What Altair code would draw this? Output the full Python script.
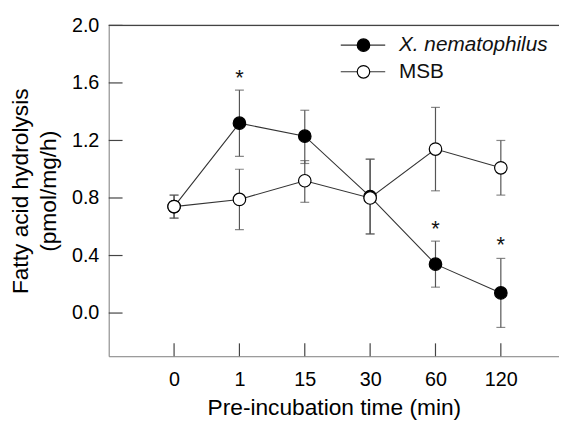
import altair as alt
import pandas as pd

# ---- data ----
times = ["0", "1", "15", "30", "60", "120"]
xnem_mean = [0.74, 1.32, 1.23, 0.81, 0.34, 0.14]
xnem_lo = [0.66, 1.09, 1.04, 0.55, 0.18, -0.10]
xnem_hi = [0.82, 1.55, 1.41, 1.07, 0.50, 0.38]
msb_mean = [0.74, 0.79, 0.92, 0.80, 1.14, 1.01]
msb_lo = [0.66, 0.58, 0.77, 0.55, 0.85, 0.82]
msb_hi = [0.82, 1.00, 1.06, 1.07, 1.43, 1.20]
star_time = ["1", "60", "120"]
star_y = [1.64, 0.59, 0.48]
y_tick_values = [0.0, 0.4, 0.8, 1.2, 1.6, 2.0]
series_names = ["X. nematophilus", "MSB"]

W, H = 456, 335
FONT = "Liberation Sans"

rows = []
for name, m, lo, hi in [(series_names[0], xnem_mean, xnem_lo, xnem_hi),
                        (series_names[1], msb_mean, msb_lo, msb_hi)]:
    for i, t in enumerate(times):
        rows.append({"series": name, "idx": i, "time": t, "mean": m[i], "lo": lo[i], "hi": hi[i]})
df = pd.DataFrame(rows)
xnem = df[df.series == series_names[0]]
msb = df[df.series == series_names[1]]

stars = pd.DataFrame({"idx": [times.index(t) for t in star_time], "mean": star_y})
yticks = pd.DataFrame({"mean": y_tick_values})
xticks = pd.DataFrame({"idx": list(range(len(times)))})

label_expr = "[" + ",".join("'%s'" % t for t in times) + "][datum.value]"

xscale = alt.Scale(domain=[-1, 5.89], nice=False, zero=False)
yscale = alt.Scale(domain=[-0.3, 2.0], nice=False, zero=False)
xaxis = alt.Axis(values=list(range(len(times))), labelExpr=label_expr, ticks=False, tickSize=0,
                 grid=False, labelPadding=14, labelFontSize=20, titleFontSize=23,
                 titleFontWeight="normal", titleBaseline="alphabetic", titleY=59,
                 labelFlush=False)
yaxis = alt.Axis(values=y_tick_values, format=".1f", ticks=False, tickSize=0, grid=False,
                 labelPadding=10, labelFontSize=20, titleFontSize=23, titleFontWeight="normal",
                 titleLineHeight=28, titleBaseline="top", titleX=-100, titleAngle=-90)
XTITLE = "Pre-incubation time (min)"
YTITLE = ["Fatty acid hydrolysis", "(pmol/mg/h)"]


def X(field="idx"):
    return alt.X(f"{field}:Q", scale=xscale, axis=xaxis, title=XTITLE)


def Y(field="mean"):
    return alt.Y(f"{field}:Q", scale=yscale, axis=yaxis, title=YTITLE)


layers = []
ERR = "#555555"
LINE = "#333333"
for d in (xnem, msb):
    layers.append(alt.Chart(d).mark_rule(color=ERR, strokeWidth=1.2).encode(
        x=X(), y=Y("lo"), y2="hi"))
    layers.append(alt.Chart(d).mark_tick(color=ERR, orient="horizontal", size=9, thickness=1.2).encode(
        x=X(), y=Y("lo")))
    layers.append(alt.Chart(d).mark_tick(color=ERR, orient="horizontal", size=9, thickness=1.2).encode(
        x=X(), y=Y("hi")))
for d in (xnem, msb):
    layers.append(alt.Chart(d).mark_line(color=LINE, strokeWidth=1.1).encode(x=X(), y=Y()))
for d, fill in ((xnem, "black"), (msb, "white")):
    layers.append(alt.Chart(d).mark_point(filled=True, fill=fill, stroke="black", strokeWidth=1.2,
                                          size=160, opacity=1, shape="circle").encode(x=X(), y=Y()))

# significance asterisks
layers.append(alt.Chart(stars).mark_text(text="*", fontSize=22, font=FONT, color="#111",
                                         baseline="alphabetic", dy=8).encode(x=X(), y=Y()))

# inward ticks
layers.append(alt.Chart(yticks).mark_rule(color="#444", strokeWidth=1.2).encode(
    y=Y(), x=alt.value(0), x2=alt.value(14)))
layers.append(alt.Chart(xticks).mark_rule(color="#444", strokeWidth=1.2).encode(
    x=X(), y=alt.value(H), y2=alt.value(H - 13)))

# top frame line
one = alt.Data(values=[{"k": 1}])
layers.append(alt.Chart(one).mark_rule(color="#444", strokeWidth=1.3).encode(
    x=alt.value(0), x2=alt.value(W), y=alt.value(0)))

# legend
for row, (name, fill, style) in enumerate(zip(series_names, ["black", "white"], ["italic", "normal"])):
    yy = 20 + row * 27
    layers.append(alt.Chart(one).mark_rule(color=LINE, strokeWidth=1.1).encode(
        x=alt.value(235), x2=alt.value(280), y=alt.value(yy)))
    layers.append(alt.Chart(one).mark_point(filled=True, fill=fill, stroke="black", strokeWidth=1.2,
                                            size=160, opacity=1, shape="circle").encode(
        x=alt.value(258), y=alt.value(yy)))
    layers.append(alt.Chart(one).mark_text(text=name, fontSize=21, font=FONT, fontStyle=style,
                                           color="#111", align="left", baseline="middle").encode(
        x=alt.value(294), y=alt.value(yy)))

chart = alt.layer(*layers).properties(
    width=W, height=H,
    autosize=alt.AutoSizeParams(type="none"),
    padding={"left": 102, "top": 15, "right": 0, "bottom": 63},
).configure_view(stroke=None).configure_axis(
    labelFont=FONT, titleFont=FONT, labelColor="#111", titleColor="#111",
    titleFontWeight="normal", domainColor="#444", domainWidth=1.3,
).configure(font=FONT)

chart.save("out.html", embed_options={"renderer": "svg", "actions": False})
